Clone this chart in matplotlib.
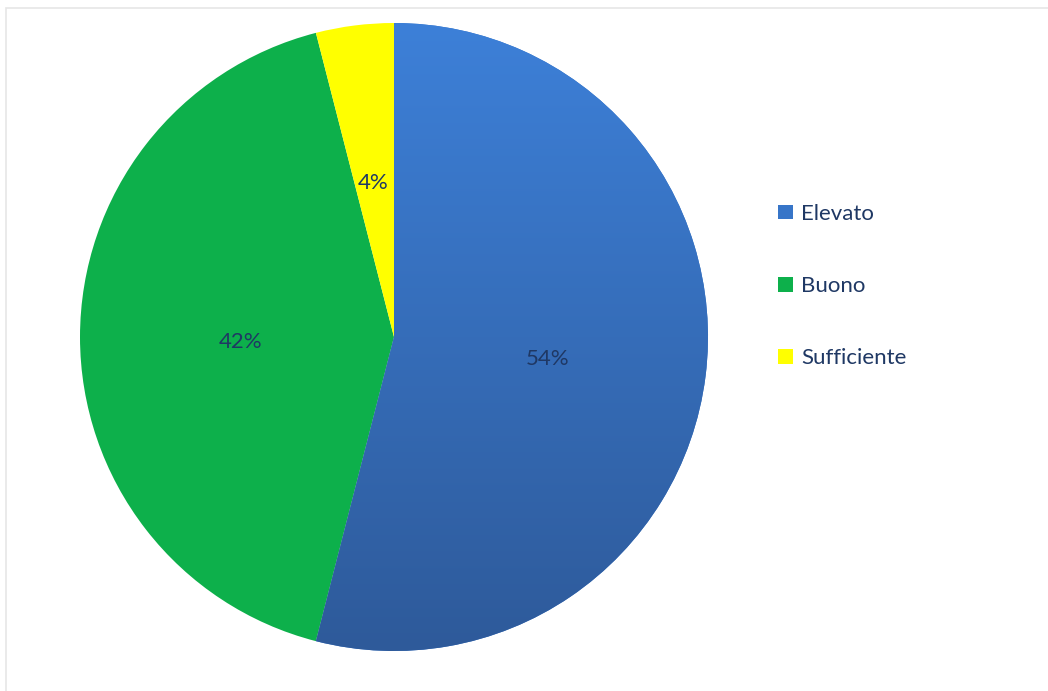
import numpy as np
import matplotlib.pyplot as plt
from matplotlib.patches import Patch, Rectangle
from matplotlib.colors import LinearSegmentedColormap

# Data
categories = ['Elevato', 'Buono', 'Sufficiente']
shares = [54, 42, 4]
labels_pct = ['54%', '42%', '4%']
colors = ['#3775c8', '#0db04b', '#ffff00']

text_color = '#1f3864'
plt.rcParams['font.family'] = ['Lato', 'DejaVu Sans']

fig = plt.figure(figsize=(10.48, 6.91), dpi=100)
fig.patch.set_facecolor('white')

# faint frame (top and left edges visible only)
fig.patches.append(Rectangle((6 / 1048, -0.2), 1.2, 1.2 - 8 / 691, transform=fig.transFigure,
                             fill=False, edgecolor='#e6e6e6', linewidth=1.2))

ax = fig.add_axes([80 / 1048, 40 / 691, 628 / 1048, 628 / 691])
wedges, texts = ax.pie(shares, colors=colors, startangle=90, counterclock=False,
                       wedgeprops=dict(linewidth=0), radius=1)

# vertical gradient on the blue wedge (lighter at top, darker at bottom)
grad = np.linspace(0, 1, 256).reshape(-1, 1)
cmap = LinearSegmentedColormap.from_list('blu', ['#2e5a9a', '#3d80d8'])
im = ax.imshow(grad, cmap=cmap, extent=[-1, 1, -1, 1], origin='lower',
               aspect='auto', zorder=wedges[0].get_zorder() + 0.1)
im.set_clip_path(wedges[0])

# percentage labels
label_pos = [(0.49, -0.07), (-0.49, -0.016), (-0.065, 0.49)]
for (x, y), t in zip(label_pos, labels_pct):
    ax.text(x, y, t, ha='center', va='center', fontsize=16, color=text_color, zorder=5)

ax.set_xlim(-1, 1)
ax.set_ylim(-1, 1)
ax.set_aspect('equal')
ax.axis('off')

handles = [Patch(facecolor=c, edgecolor='none') for c in colors]
leg = fig.legend(handles, categories, loc='center left',
                 bbox_to_anchor=(767 / 1048, 1 - 286 / 691), frameon=False,
                 fontsize=16, labelspacing=2.35, handlelength=0.65, handleheight=0.65,
                 handletextpad=0.4, borderpad=0)
for t in leg.get_texts():
    t.set_color(text_color)

fig.savefig('out.png', dpi=100)
